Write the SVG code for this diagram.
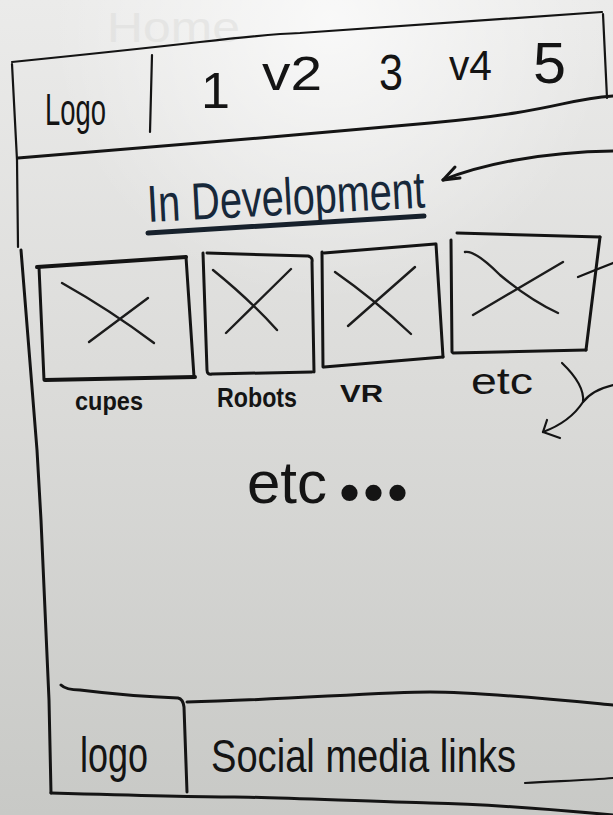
<svg xmlns="http://www.w3.org/2000/svg" width="613" height="815" viewBox="0 0 613 815">
  <defs>
    <linearGradient id="board" x1="0" y1="0" x2="0" y2="1">
      <stop offset="0" stop-color="#ebebea"/>
      <stop offset="0.45" stop-color="#dcdcda"/>
      <stop offset="1" stop-color="#c8c9c6"/>
    </linearGradient>
    <radialGradient id="glare" cx="330" cy="20" r="280" gradientUnits="userSpaceOnUse">
      <stop offset="0" stop-color="#ffffff" stop-opacity="0.7"/>
      <stop offset="1" stop-color="#ffffff" stop-opacity="0"/>
    </radialGradient>
    <style>
      .ink { fill: none; stroke: #141414; stroke-linecap: round; stroke-linejoin: round; }
      .thin { stroke-width: 2.2; }
      .mid { stroke-width: 3; }
      .thick { stroke-width: 4; }
      .cross { stroke-width: 2.4; stroke: #1c1c1c; }
      .hand { font-family: "Liberation Sans", Arial, sans-serif; fill: #141414; }
      .label { font-weight: bold; }
    </style>
  </defs>

  <!-- whiteboard surface -->
  <rect width="613" height="815" fill="url(#board)"/>
  <rect width="613" height="815" fill="url(#glare)"/>

  <!-- faintly erased heading -->
  <text x="107" y="42" font-family="Liberation Sans, Arial, sans-serif" font-size="42" fill="#dcdcda" opacity="0.5" textLength="133" lengthAdjust="spacingAndGlyphs">Home</text>

  <!-- page outline -->
  <g id="frame">
    <path class="ink thin" d="M12,62 Q130,50 200,42 T300,33 Q450,22 602,12"/>
    <path class="ink thin" d="M603,14 L607,98"/>
    <path class="ink thin" d="M12,64 L17,160 L18,247"/>
    <path class="ink mid" d="M21,250 L37,450 L41,520 L49,700 L51,793"/>
  </g>

  <!-- navigation bar -->
  <g id="nav">
    <path class="ink mid" d="M18,158 C120,150 300,135 430,123 S560,100 613,96"/>
    <path class="ink thin" d="M152,55 L150,132"/>
    <text x="45" y="125" class="hand" font-size="44" textLength="61" lengthAdjust="spacingAndGlyphs">Logo</text>
    <text x="201" y="108" class="hand" font-size="50" textLength="29" lengthAdjust="spacingAndGlyphs">1</text>
    <text x="262" y="90" class="hand" font-size="48" textLength="60" lengthAdjust="spacingAndGlyphs">v2</text>
    <text x="379" y="90" class="hand" font-size="50" textLength="24" lengthAdjust="spacingAndGlyphs">3</text>
    <text x="449" y="80" class="hand" font-size="42" textLength="43" lengthAdjust="spacingAndGlyphs">v4</text>
    <text x="533" y="83" class="hand" font-size="58" textLength="33" lengthAdjust="spacingAndGlyphs">5</text>
  </g>

  <!-- section heading -->
  <g id="title">
    <text x="148" y="222" class="hand" font-size="52" textLength="278" lengthAdjust="spacingAndGlyphs" transform="rotate(-3 148 222)" style="fill:#17283a">In Development</text>
    <path class="ink" stroke-width="5" style="stroke:#17212c" d="M148,233 C250,227 350,221 424,216"/>
  </g>

  <!-- image cards -->
  <g id="card-cupes">
    <path class="ink thick" d="M37,267 L186,257"/>
    <path class="ink mid" d="M39,267 L44,380"/>
    <path class="ink thick" d="M45,380 L195,377"/>
    <path class="ink mid" d="M186,257 L194,377"/>
    <path class="ink cross" d="M62,283 Q110,310 154,343 M89,342 L148,298"/>
    <text x="75" y="410" class="hand label" font-size="26" textLength="68" lengthAdjust="spacingAndGlyphs">cupes</text>
  </g>

  <g id="card-robots">
    <path class="ink mid" d="M203,253 L207,370 Q207,375 212,374 L312,372"/>
    <path class="ink mid" d="M207,253 L308,256 Q313,257 312,262 L314,372"/>
    <path class="ink cross" d="M213,270 Q250,300 277,330 M291,269 L226,333"/>
    <text x="217" y="407" class="hand label" font-size="27" textLength="80" lengthAdjust="spacingAndGlyphs">Robots</text>
  </g>

  <g id="card-vr">
    <path class="ink mid" d="M322,252 L323,367"/>
    <path class="ink mid" d="M324,253 L435,244"/>
    <path class="ink mid" d="M436,244 L443,357"/>
    <path class="ink mid" d="M324,367 L443,357"/>
    <path class="ink cross" d="M335,272 Q375,300 411,334 M415,267 L348,326"/>
    <text x="340" y="402" class="hand label" font-size="24" textLength="43" lengthAdjust="spacingAndGlyphs">VR</text>
  </g>

  <g id="card-etc">
    <path class="ink mid" d="M451,240 L452,352"/>
    <path class="ink mid" d="M457,233 L600,237"/>
    <path class="ink mid" d="M600,237 L586,350"/>
    <path class="ink mid" d="M453,353 L586,350"/>
    <path class="ink cross" d="M465,252 Q475,250 500,275 Q530,300 558,313 M473,315 L563,262"/>
    <text x="471" y="394" class="hand" font-size="36" textLength="62" lengthAdjust="spacingAndGlyphs">etc</text>
  </g>

  <!-- more content placeholder -->
  <g id="more">
    <text x="247" y="503" class="hand" font-size="60">etc<tspan dx="10" dy="-3" font-family="Liberation Serif, serif" font-size="100" font-weight="bold" letter-spacing="-1">...</tspan></text>
  </g>

  <!-- annotation arrows -->
  <g id="connectors">
    <path class="ink mid" d="M443,180 C480,165 540,152 613,151"/>
    <path class="ink mid" d="M443,180 L455,167 M443,180 L460,178"/>
    <path class="ink thin" d="M578,277 Q595,270 613,263"/>
    <path class="ink thin" d="M562,363 Q585,385 583,402"/>
    <path class="ink thin" d="M613,385 Q592,390 583,402 Q570,422 543,432"/>
    <path class="ink thin" d="M543,432 L547,420 M543,432 L560,438"/>
  </g>

  <!-- footer -->
  <g id="footer">
    <path class="ink mid" d="M61,685 Q66,690 80,690 C120,695 150,697 178,698 Q183,699 184,707 L187,792"/>
    <path class="ink mid" d="M187,702 C280,700 380,692 430,692 S560,700 613,705"/>
    <path class="ink mid" d="M51,793 C120,795 200,797 234,797 S380,802 430,803 S560,810 613,815"/>
    <path class="ink thin" d="M525,783 C560,781 590,780 613,778"/>
    <text x="80" y="772" class="hand" font-size="50" textLength="68" lengthAdjust="spacingAndGlyphs">logo</text>
    <text x="211" y="772" class="hand" font-size="46" textLength="305" lengthAdjust="spacingAndGlyphs">Social media links</text>
  </g>
</svg>
